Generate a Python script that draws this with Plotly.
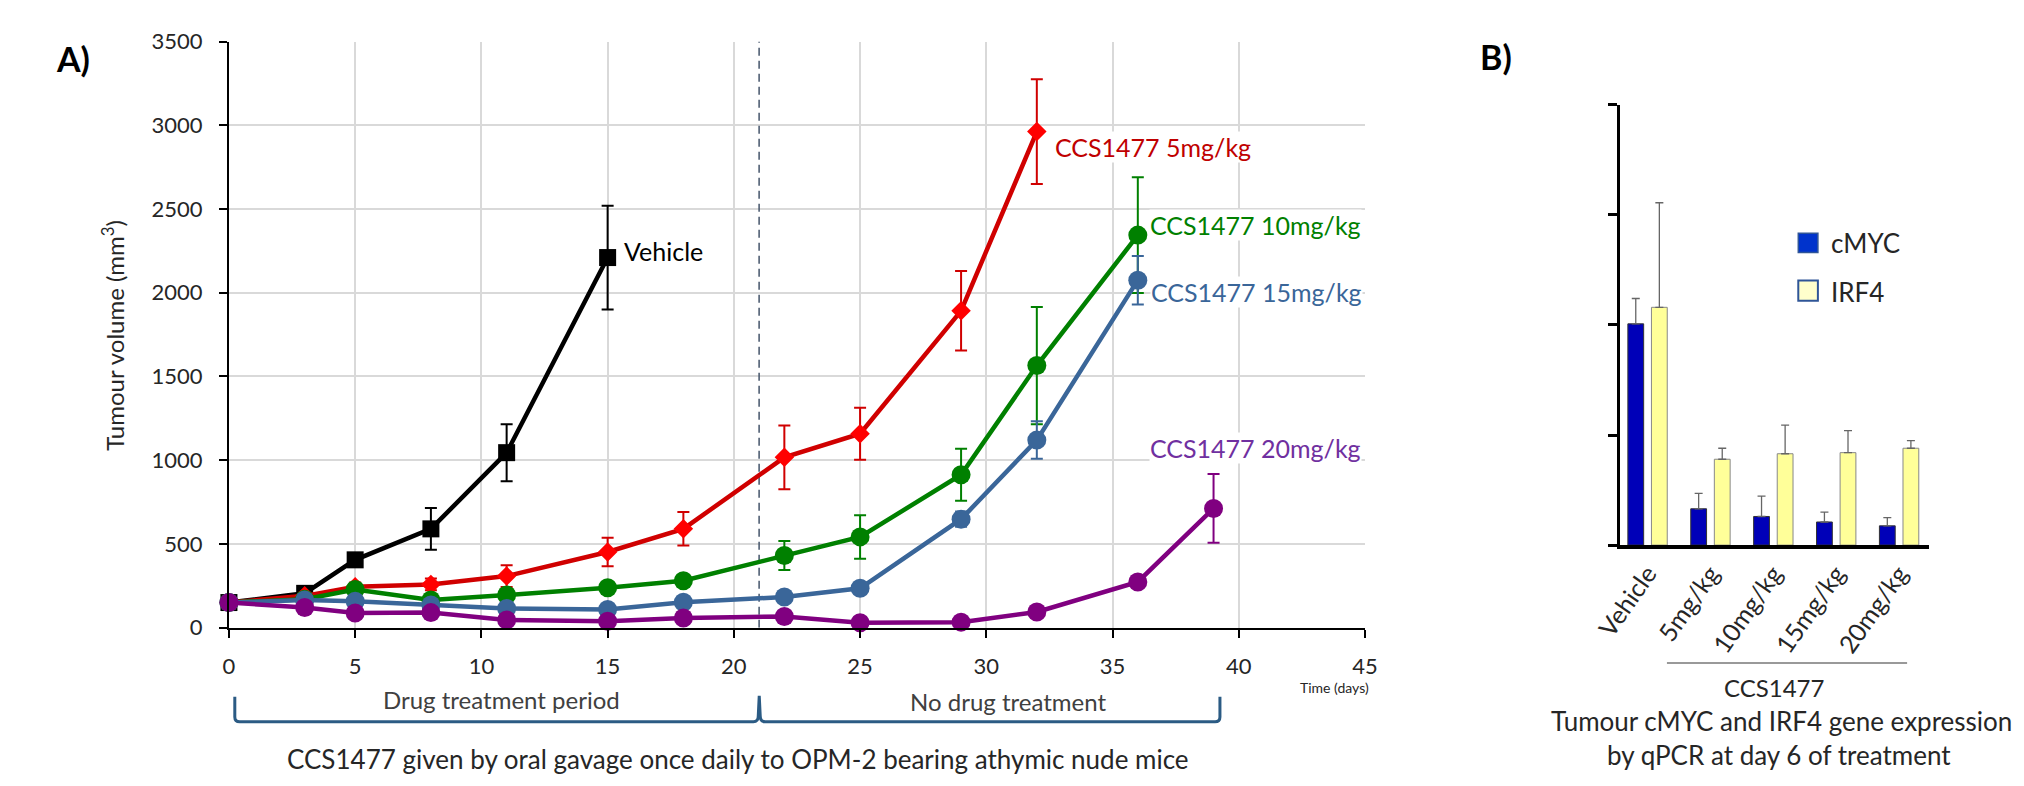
import plotly.graph_objects as go

W, H = 2024, 786
FONT = "Lato"
TXT = "#262626"


def px(x):
    return x / W


def py(y):
    return 1 - y / H


# ---------------- Panel A data ----------------
vehicle_days = [0, 3, 5, 8, 11, 15]
vehicle_vol = [150, 205, 405, 590, 1045, 2210]
vehicle_err = [20, 25, 40, 125, 170, 310]

mg5_days = [0, 3, 5, 8, 11, 15, 18, 22, 25, 29, 32]
mg5_vol = [150, 190, 245, 258, 308, 452, 590, 1017, 1158, 1892, 2962]
mg5_err = [15, 20, 25, 35, 65, 85, 100, 190, 155, 237, 313]

mg10_days = [0, 3, 5, 8, 11, 15, 18, 22, 25, 29, 32, 36]
mg10_vol = [150, 170, 228, 165, 195, 238, 280, 431, 542, 913, 1565, 2344]
mg10_err = [15, 20, 20, 20, 20, 25, 30, 87, 130, 155, 350, 345]

mg15_days = [0, 3, 5, 8, 11, 15, 18, 22, 25, 29, 32, 36]
mg15_vol = [150, 165, 158, 135, 115, 108, 152, 183, 235, 648, 1120, 2075]
mg15_err = [15, 15, 15, 15, 15, 15, 20, 20, 25, 45, 112, 145]

mg20_days = [0, 3, 5, 8, 11, 15, 18, 22, 25, 29, 32, 36, 39]
mg20_vol = [150, 120, 88, 90, 46, 38, 58, 67, 29, 33, 94, 273, 712]
mg20_err = [10, 10, 10, 10, 10, 10, 10, 10, 10, 10, 15, 35, 205]

series_labels = ["Vehicle", "CCS1477 5mg/kg", "CCS1477 10mg/kg", "CCS1477 15mg/kg", "CCS1477 20mg/kg"]
x_ticks = [0, 5, 10, 15, 20, 25, 30, 35, 40, 45]
y_ticks = [0, 500, 1000, 1500, 2000, 2500, 3000, 3500]
treatment_end_day = 21

# ---------------- Panel B data ----------------
groups = ["Vehicle", "5mg/kg", "10mg/kg", "15mg/kg", "20mg/kg"]
cmyc = [2.01, 0.33, 0.26, 0.21, 0.175]
cmyc_err = [0.23, 0.14, 0.185, 0.09, 0.075]
irf4 = [2.16, 0.78, 0.83, 0.84, 0.88]
irf4_err = [0.95, 0.10, 0.26, 0.20, 0.07]

fig = go.Figure()

styles = [
    (vehicle_days, vehicle_vol, vehicle_err, "#000000", "#000000", "square", 17),
    (mg5_days, mg5_vol, mg5_err, "#D00000", "#FF0000", "diamond", 15),
    (mg10_days, mg10_vol, mg10_err, "#008000", "#008000", "circle", 19),
    (mg15_days, mg15_vol, mg15_err, "#3A6699", "#3A6699", "circle", 19),
    (mg20_days, mg20_vol, mg20_err, "#800080", "#800080", "circle", 19),
]
for (d, v, e, lc, mc, sym, sz), name in zip(styles, series_labels):
    fig.add_trace(go.Scatter(
        x=d, y=v, mode="lines+markers", name=name,
        line=dict(color=lc, width=4.5),
        marker=dict(symbol=sym, size=sz, color=mc, line=dict(width=0)),
        error_y=dict(type="data", array=e, color=lc, thickness=2, width=6),
        cliponaxis=False, showlegend=False, xaxis="x", yaxis="y",
    ))

fig.add_trace(go.Bar(
    x=groups, y=cmyc, name="cMYC", showlegend=False,
    marker=dict(color="#0000B8", line=dict(color="#333333", width=1)),
    error_y=dict(type="data", symmetric=False, array=cmyc_err, arrayminus=[0] * 5,
                 color="#666666", thickness=1.3, width=4),
    xaxis="x2", yaxis="y2",
))
fig.add_trace(go.Bar(
    x=groups, y=irf4, name="IRF4", showlegend=False,
    marker=dict(color="#FFFF99", line=dict(color="#888888", width=1)),
    error_y=dict(type="data", symmetric=False, array=irf4_err, arrayminus=[0] * 5,
                 color="#666666", thickness=1.3, width=4),
    xaxis="x2", yaxis="y2",
))

shapes = []
# vertical dashed line at end of treatment
shapes.append(dict(type="line", xref="x", yref="y", x0=treatment_end_day, x1=treatment_end_day,
                   y0=0, y1=3500, line=dict(color="#44546A", width=1.5, dash="8px,5px"),
                   layer="between"))


def P(x, y):
    return f"{px(x):.5f},{py(y):.5f}"


bracket = (f"M {P(212,707)} L {P(212,728)} Q {P(212,733)} {P(217,733)} L {P(741,733)} "
           f"Q {P(746,733)} {P(746,727)} L {P(747,706)} L {P(748,727)} Q {P(748,733)} {P(753,733)} "
           f"L {P(1212,733)} Q {P(1217,733)} {P(1217,728)} L {P(1217,707)}")
shapes.append(dict(type="path", xref="paper", yref="paper", path=bracket,
                   line=dict(color="#2B5B84", width=3)))
# group line in B
shapes.append(dict(type="line", xref="paper", yref="paper", x0=px(1673), x1=px(1918),
                   y0=py(672), y1=py(672), line=dict(color="#777777", width=1.5)))
# legend squares in B
shapes.append(dict(type="rect", xref="paper", yref="paper", x0=px(1807), x1=px(1827),
                   y0=py(247), y1=py(227), fillcolor="#0033CC", line=dict(color="#2F5597", width=1.5)))
shapes.append(dict(type="rect", xref="paper", yref="paper", x0=px(1807), x1=px(1827),
                   y0=py(297), y1=py(276), fillcolor="#FFFFCC", line=dict(color="#2F5597", width=2)))

ann = []
# series labels
lab_pos = [(15.6, 2252, "#000000"), (32.7, 2869, "#C00000"), (36.45, 2407, "#008000"),
           (36.5, 2003, "#3A6699"), (36.45, 1075, "#7030A0")]
for (lx, ly, c), t in zip(lab_pos, series_labels):
    ann.append(dict(x=lx, y=ly, xref="x", yref="y", text=t, showarrow=False, xanchor="left",
                    yanchor="middle", font=dict(family=FONT, size=25, color=c), bgcolor="white",
                    borderpad=0))

ann += [
    dict(x=px(47), y=py(46), xref="paper", yref="paper", text="<b>A)</b>", showarrow=False,
         font=dict(family=FONT, size=34, color="#000"), xanchor="center", yanchor="middle"),
    dict(x=px(1499), y=py(44), xref="paper", yref="paper", text="<b>B)</b>", showarrow=False,
         font=dict(family=FONT, size=34, color="#000"), xanchor="center", yanchor="middle"),
    dict(x=px(87), y=py(333), xref="paper", yref="paper", text="Tumour volume (mm<sup>3</sup>)",
         textangle=-90, showarrow=False, font=dict(family=FONT, size=24, color=TXT),
         xanchor="center", yanchor="middle"),
    dict(x=px(1297), y=py(697), xref="paper", yref="paper", text="Time (days)", showarrow=False,
         font=dict(family=FONT, size=14, color=TXT), xanchor="left", yanchor="middle"),
    dict(x=10.8, y=py(710), xref="x", yref="paper", text="Drug treatment period",
         showarrow=False, font=dict(family=FONT, size=24, color="#404040"),
         xanchor="center", yanchor="middle"),
    dict(x=30.85, y=py(712), xref="x", yref="paper", text="No drug treatment",
         showarrow=False, font=dict(family=FONT, size=24, color="#404040"),
         xanchor="center", yanchor="middle"),
    dict(x=20.15, y=py(772), xref="x", yref="paper",
         text="CCS1477 given by oral gavage once daily to OPM-2 bearing athymic nude mice",
         showarrow=False, font=dict(family=FONT, size=26, color=TXT),
         xanchor="center", yanchor="middle"),
    dict(x=px(1838), y=py(237), xref="paper", yref="paper", text="cMYC", showarrow=False,
         font=dict(family=FONT, size=26, color=TXT), xanchor="left", yanchor="middle"),
    dict(x=px(1838), y=py(288), xref="paper", yref="paper", text="IRF4", showarrow=False,
         font=dict(family=FONT, size=26, color=TXT), xanchor="left", yanchor="middle"),
    dict(x=px(1782), y=py(697), xref="paper", yref="paper", text="CCS1477", showarrow=False,
         font=dict(family=FONT, size=24, color=TXT), xanchor="center", yanchor="middle"),
    dict(x=px(1790), y=py(732), xref="paper", yref="paper",
         text="Tumour cMYC and IRF4 gene expression", showarrow=False,
         font=dict(family=FONT, size=26, color=TXT), xanchor="center", yanchor="middle"),
    dict(x=px(1787), y=py(767), xref="paper", yref="paper",
         text="by qPCR at day 6 of treatment", showarrow=False,
         font=dict(family=FONT, size=26, color=TXT), xanchor="center", yanchor="middle"),
]

fig.update_layout(
    width=W, height=H, margin=dict(l=0, r=0, t=0, b=0),
    paper_bgcolor="white", plot_bgcolor="white",
    font=dict(family=FONT, color=TXT),
    barmode="group", bargap=0.25, bargroupgap=0.33,
    shapes=shapes, annotations=ann,
    xaxis=dict(domain=[px(206), px(1365)], range=[0, 45], tickvals=x_ticks,
               showgrid=True, gridcolor="#D9D9D9", gridwidth=1.5,
               showline=True, linecolor="black", linewidth=2,
               ticks="outside", ticklen=8, tickwidth=2, tickcolor="black",
               tickfont=dict(family=FONT, size=22, color=TXT), zeroline=False,
               ticklabelstandoff=10, anchor="y"),
    yaxis=dict(domain=[py(635.5), py(28.5)], range=[0, 3500], tickvals=y_ticks,
               showgrid=True, gridcolor="#D9D9D9", gridwidth=1.5,
               showline=True, linecolor="black", linewidth=2,
               ticks="outside", ticklen=8, tickwidth=2, tickcolor="black",
               tickfont=dict(family=FONT, size=22, color=TXT), zeroline=False,
               ticklabelstandoff=12, anchor="x"),
    xaxis2=dict(domain=[px(1625), px(1940)], type="category", range=[-0.44, 4.47],
                showline=True, linecolor="black", linewidth=4, ticks="",
                tickangle=-55, tickfont=dict(family=FONT, size=25, color=TXT),
                showgrid=False, zeroline=False, anchor="y2"),
    yaxis2=dict(domain=[py(550), py(94)], range=[0, 4], dtick=1, tick0=0,
                showline=True, linecolor="black", linewidth=3,
                ticks="outside", ticklen=9, tickwidth=3, tickcolor="black",
                showticklabels=False, showgrid=False, zeroline=False, anchor="x2"),
)

fig.write_html("out.html")
